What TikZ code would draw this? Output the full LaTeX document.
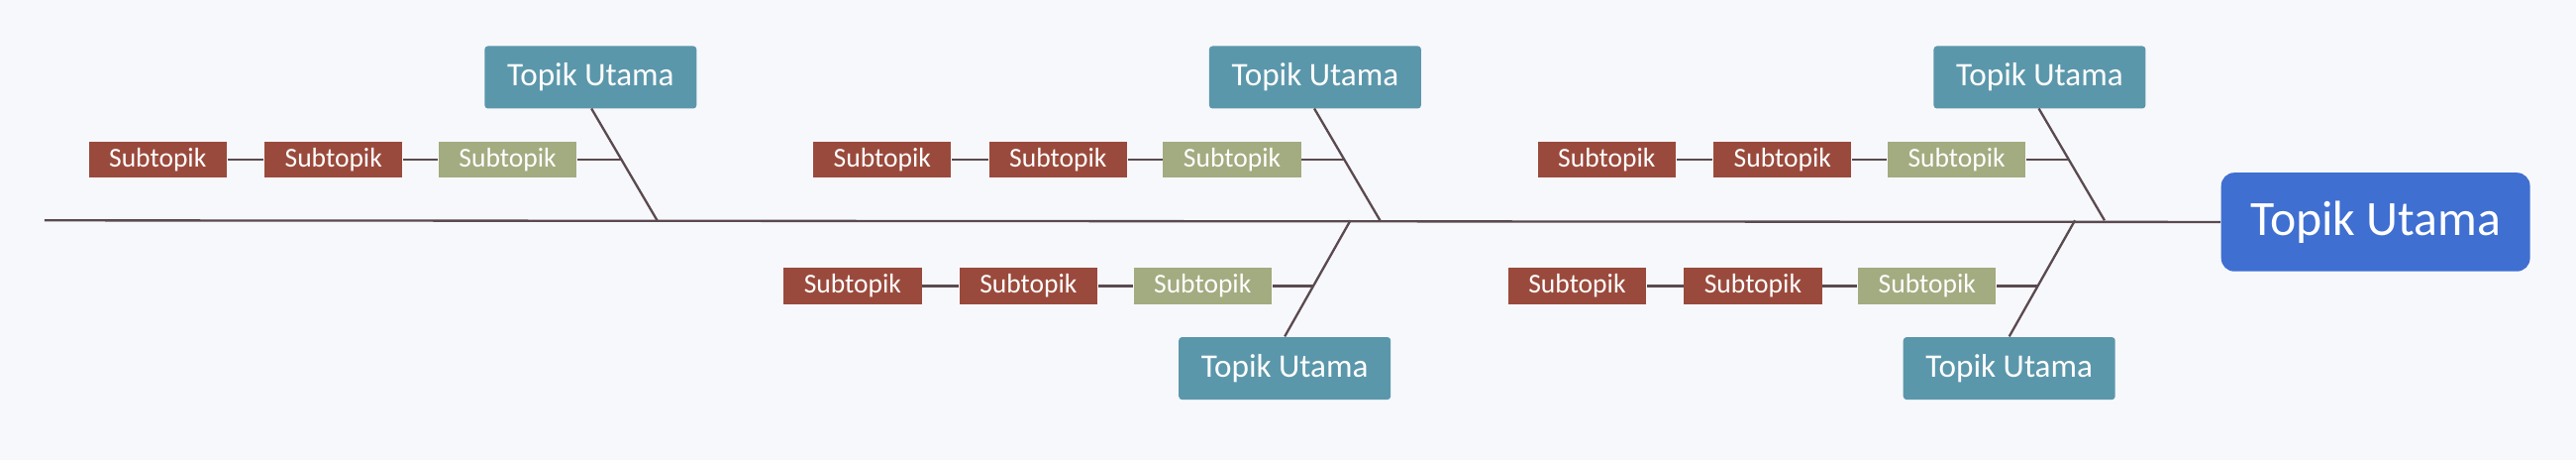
\documentclass[tikz,border=0pt]{standalone}
\usepackage{fontspec}
\setmainfont{Carlito}
\begin{document}
\begin{tikzpicture}[x=0.5pt,y=-0.5pt,
  red/.style={fill=sred,text=white,minimum width=42pt,minimum height=11pt,inner sep=0pt,font=\fontsize{8.3}{9}\selectfont},
  grn/.style={red,fill=sgrn},
  top/.style={fill=stop,text=white,minimum width=64.5pt,minimum height=19pt,inner sep=0pt,rounded corners=1pt,font=\fontsize{10}{11}\selectfont},
  ln/.style={draw=sline,line width=0.7pt}]
\definecolor{sred}{HTML}{9A4A3C}\definecolor{sgrn}{HTML}{A3AB80}
\definecolor{stop}{HTML}{5B97AB}\definecolor{sline}{HTML}{5A4A4F}
\definecolor{bg}{HTML}{F7F8FC}\definecolor{sblue}{HTML}{3F6FD1}
\fill[bg] (0,0) rectangle (1568,280);
\useasboundingbox (0,0) rectangle (1568,280);
\coordinate (s0) at (27,134);
\node[fill=sblue,text=white,minimum width=94pt,minimum height=30pt,rounded corners=4pt,inner sep=0pt,font=\fontsize{15}{17}\selectfont] (main) at (1446,135) {Topik Utama};
\draw[ln] (s0) -- (main.west);
% top branches
\node[top] (ta) at (359.5,47) {Topik Utama};
\node[top] (tb) at (800.5,47) {Topik Utama};
\node[top] (tc) at (1241.5,47) {Topik Utama};
\coordinate (ea) at (400,134); \coordinate (eb) at (840,134); \coordinate (ec) at (1281,134);
\draw[ln] (360,66) -- (ea);
\draw[ln] (800,66) -- (eb);
\draw[ln] (1241,66) -- (ec);
\node[top] (tbb) at (782,224) {Topik Utama};
\node[top] (tcb) at (1223,224) {Topik Utama};
\coordinate (fb) at (822,134); \coordinate (fc) at (1263,134);
\draw[ln] (tbb.north) -- (fb);
\draw[ln] (tcb.north) -- (fc);
% subtopic rows
\coordinate (ja) at (378,97); \coordinate (jb) at (818,97); \coordinate (jc) at (1259,97);
\coordinate (jbb) at (799.5,174); \coordinate (jcb) at (1240.5,174);
\foreach \n/\x/\y in {a/54/97,b/495/97,c/936/97,bb/477/174,cb/918/174}{
  \node[red] (p\n) at (\x+42,\y) {Subtopik};
  \node[red] (q\n) at (\x+149,\y) {Subtopik};
  \node[grn] (r\n) at (\x+255,\y) {Subtopik};
  \draw[ln] (p\n) -- (q\n);
  \draw[ln] (q\n) -- (r\n);
  \draw[ln] (r\n) -- (j\n);
}
\end{tikzpicture}
\end{document}
